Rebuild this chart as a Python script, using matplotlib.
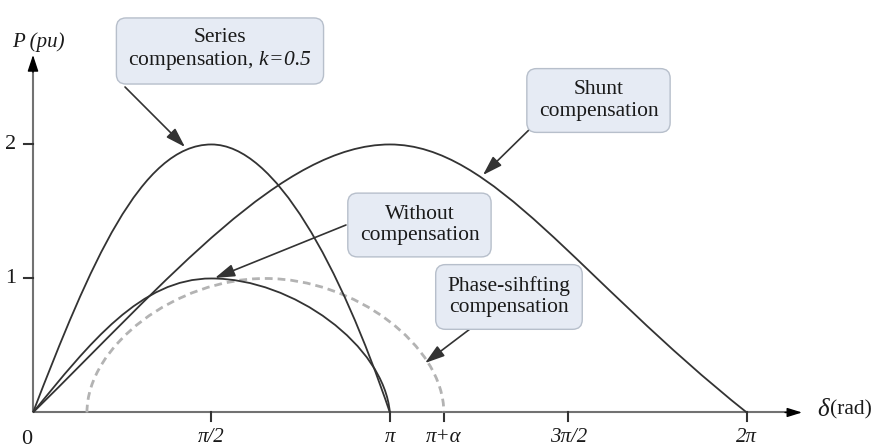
import numpy as np
import matplotlib
matplotlib.use('Agg')
import matplotlib.pyplot as plt
from matplotlib.path import Path
from matplotlib.patches import PathPatch

plt.rcParams['font.family'] = ['Liberation Serif', 'DejaVu Serif']
plt.rcParams['mathtext.fontset'] = 'custom'
plt.rcParams['mathtext.rm'] = 'Liberation Serif:italic'
plt.rcParams['mathtext.it'] = 'Liberation Serif:italic'

alpha = 0.475  # phase shift, rad

# each curve = two cubic bezier pieces: start, ctrl, ctrl, peak, ctrl, ctrl, end
without_d = [0, 0.50, 0.95, np.pi / 2, 2.29, 3.09, np.pi]
without_p = [0, 0.52, 1.00, 1.00, 1.00, 0.50, 0]

series_d = [0, 0.50, 0.95, np.pi / 2, 2.13, 2.70, np.pi]
series_p = [0, 1.10, 2.00, 2.00, 2.00, 1.10, 0]

shunt_d = [0, 1.20, 2.20, np.pi, 4.05, 4.80, 2 * np.pi]
shunt_p = [0, 1.00, 2.00, 2.00, 2.00, 1.00, 0]

phase_d = [alpha, alpha, alpha + 0.785, alpha + np.pi / 2,
           alpha + np.pi / 2 + 0.785, alpha + np.pi, alpha + np.pi]
phase_p = [0, 0.50, 1.00, 1.00, 1.00, 0.50, 0]

x_ticks = [np.pi / 2, np.pi, np.pi + alpha, 1.5 * np.pi, 2 * np.pi]
x_tick_labels = ['π/2', 'π', 'π+α', '3π/2', '2π']
y_ticks = [1, 2]


def curve(xs, ys, **kw):
    verts = list(zip(xs, ys))
    codes = [Path.MOVETO] + [Path.CURVE4] * (len(verts) - 1)
    return PathPatch(Path(verts, codes), fill=False, **kw)


fig = plt.figure(figsize=(8.76, 4.48), dpi=100)
ax = fig.add_axes([0, 0, 1, 1])
ax.set_xlim(-0.2905, 7.421)
ax.set_ylim(-0.265, 3.078)
ax.axis('off')

axis_c = '#727272'
line_c = '#333333'
txt_c = '#1a1a1a'

# axes with arrow heads
ax.plot([0, 6.66], [0, 0], color=axis_c, lw=1.5, solid_capstyle='butt', zorder=2)
ax.plot([0, 0], [0, 2.56], color=axis_c, lw=1.5, solid_capstyle='butt', zorder=2)
ax.annotate('', xy=(6.77, 0), xytext=(6.62, 0),
            arrowprops=dict(arrowstyle='-|>,head_length=0.9,head_width=0.28',
                            color='black', lw=1.0, mutation_scale=10,
                            shrinkA=0, shrinkB=0))
ax.annotate('', xy=(0, 2.668), xytext=(0, 2.54),
            arrowprops=dict(arrowstyle='-|>,head_length=1.0,head_width=0.33',
                            color='black', lw=1.0, mutation_scale=10,
                            shrinkA=0, shrinkB=0))

for xt, lab in zip(x_ticks, x_tick_labels):
    ax.plot([xt, xt], [0, -0.06], color=line_c, lw=1.5)
    ax.text(xt, -0.19, lab, ha='center', va='center', fontsize=15,
            style='italic', color=txt_c)
for yt in y_ticks:
    ax.plot([0, -0.08], [yt, yt], color=line_c, lw=1.5)
    ax.text(-0.2, yt, str(yt), ha='center', va='center', fontsize=16, color=txt_c)
ax.text(-0.055, -0.205, '0', ha='center', va='center', fontsize=16, color=txt_c)

ax.text(0.045, 2.765, 'P (pu)', ha='center', va='center', fontsize=15,
        style='italic', color=txt_c)
ax.text(6.955, 0.02, 'δ', ha='center', va='center', fontsize=18,
        style='italic', color=txt_c)
ax.text(7.015, 0.02, '(rad)', ha='left', va='center', fontsize=15.5, color=txt_c)

# power-angle curves
ax.add_patch(curve(without_d, without_p, ec=line_c, lw=1.3, zorder=3))
ax.add_patch(curve(series_d, series_p, ec=line_c, lw=1.3, zorder=3))
ax.add_patch(curve(shunt_d, shunt_p, ec=line_c, lw=1.3, zorder=3))
ax.add_patch(curve(phase_d, phase_p, ec='#b3b3b3', lw=2.0,
                   linestyle=(0, (2.8, 1.8)), zorder=2))

# callout boxes
box = dict(boxstyle='round,pad=0.55,rounding_size=0.45',
           fc='#e6ebf4', ec='#b7bfcb', lw=1.0)
callouts = [
    ('Series\ncompensation, $k\\!=\\!0.5$',
     (1.646, 2.705), (1.338, 1.981), (0.810, 2.429)),
    ('Shunt\ncompensation', (4.978, 2.328), (3.961, 1.772), (4.393, 2.131)),
    ('Without\ncompensation', (3.402, 1.399), (1.602, 1.004), (2.755, 1.399)),
    ('Phase-sihfting\ncompensation', (4.190, 0.862), (3.451, 0.369), (3.917, 0.668)),
]
for label, pos, tip, start in callouts:
    ax.annotate('', xy=tip, xytext=start,
                arrowprops=dict(arrowstyle='-|>,head_length=1.2,head_width=0.38',
                                color=line_c, lw=1.2, mutation_scale=10,
                                shrinkA=0, shrinkB=0), zorder=4)
    ax.text(pos[0], pos[1], label, ha='center', va='center', fontsize=15.5,
            color=txt_c, linespacing=1.15, bbox=box, zorder=5)

fig.savefig('out.png', dpi=100)
